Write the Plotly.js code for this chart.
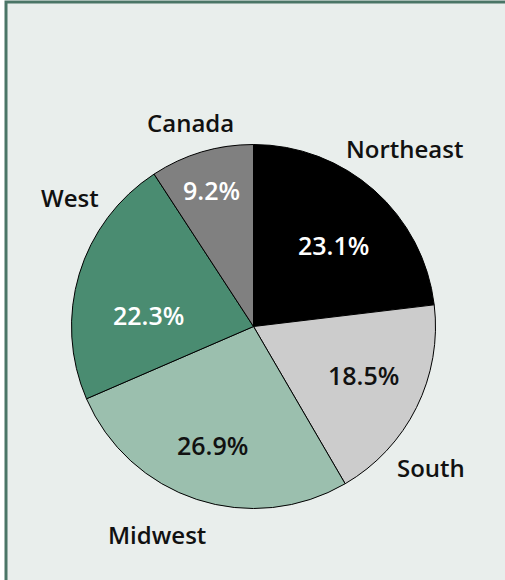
<!DOCTYPE html>
<html>
<head>
<meta charset="utf-8">
<script src="https://cdn.plot.ly/plotly-3.0.1.min.js"></script>
<style>html,body{margin:0;padding:0;background:#fff;}#chart{width:505px;height:580px;}</style>
</head>
<body>
<div id="chart"></div>
<script>
const regions = ["Northeast", "South", "Midwest", "West", "Canada"];
const shares = [23.1, 18.5, 26.9, 22.3, 9.2];
const sliceColors = ["#000000", "#cccccc", "#9bbfae", "#4a8c71", "#808080"];
const pctColors = ["#ffffff", "#111111", "#111111", "#ffffff", "#ffffff"];

// text placement tweaks (style only): angular nudge from slice mid-angle (deg) and radius factor
const labelNudgeDeg = [-1.3, 12.1, 6.6, 18.3, -0.7];
const labelRadiusFactor = [1.285, 1.245, 1.26, 1.23, 1.175];
const pctNudgeDeg = [2.7, -2.6, 0.9, -10.5, -0.7];
const pctRadiusFactor = [0.626, 0.659, 0.687, 0.582, 0.786];

const W = 505, H = 580;
const fontFam = "'Open Sans', 'Noto Sans', sans-serif";
const dom = {x: [0.1416, 0.8624], y: [0.1224, 0.7517]};

// pie geometry in pixels derived from the domain (same as Plotly uses)
const cxPx = (dom.x[0] + dom.x[1]) / 2 * W;
const cyPx = (1 - (dom.y[0] + dom.y[1]) / 2) * H;
const rPx = Math.min((dom.x[1] - dom.x[0]) * W, (dom.y[1] - dom.y[0]) * H) / 2;

const total = shares.reduce((a, b) => a + b, 0);
const annotations = [];
let cum = 0;
regions.forEach((name, i) => {
  const mid = (cum + shares[i] / 2) / total * 360;
  cum += shares[i];
  const place = (nudge, factor) => {
    const ang = (mid + nudge) * Math.PI / 180;
    const rr = rPx * factor;
    return {x: (cxPx + rr * Math.sin(ang)) / W, y: 1 - (cyPx - rr * Math.cos(ang)) / H};
  };
  const lp = place(labelNudgeDeg[i], labelRadiusFactor[i]);
  annotations.push({
    text: name, xref: "paper", yref: "paper",
    x: lp.x, y: lp.y, xanchor: "center", yanchor: "middle",
    showarrow: false,
    font: {family: fontFam, size: 24, color: "#111111", weight: 600}
  });
  const pp = place(pctNudgeDeg[i], pctRadiusFactor[i]);
  annotations.push({
    text: (shares[i] / total * 100).toFixed(1) + "%", xref: "paper", yref: "paper",
    x: pp.x, y: pp.y, xanchor: "center", yanchor: "middle",
    showarrow: false,
    font: {family: fontFam, size: 25, color: pctColors[i], weight: 600}
  });
});

const pieTrace = {
  type: "pie",
  labels: regions,
  values: shares,
  sort: false,
  direction: "clockwise",
  rotation: 0,
  domain: dom,
  marker: {colors: sliceColors, line: {color: "#000000", width: 1}},
  textinfo: "none",
  showlegend: false,
  hoverinfo: "label+percent"
};

const layout = {
  width: W,
  height: H,
  margin: {l: 0, r: 0, t: 0, b: 0},
  paper_bgcolor: "#ffffff",
  showlegend: false,
  annotations: annotations,
  shapes: [{
    type: "rect", xref: "paper", yref: "paper", layer: "below",
    x0: 6/W, x1: 1.05, y0: -0.05, y1: 1 - 2/H,
    line: {color: "#4a7566", width: 3},
    fillcolor: "#e9eeec"
  }]
};

Plotly.newPlot("chart", [pieTrace], layout, {displayModeBar: false, staticPlot: true});
</script>
</body>
</html>
